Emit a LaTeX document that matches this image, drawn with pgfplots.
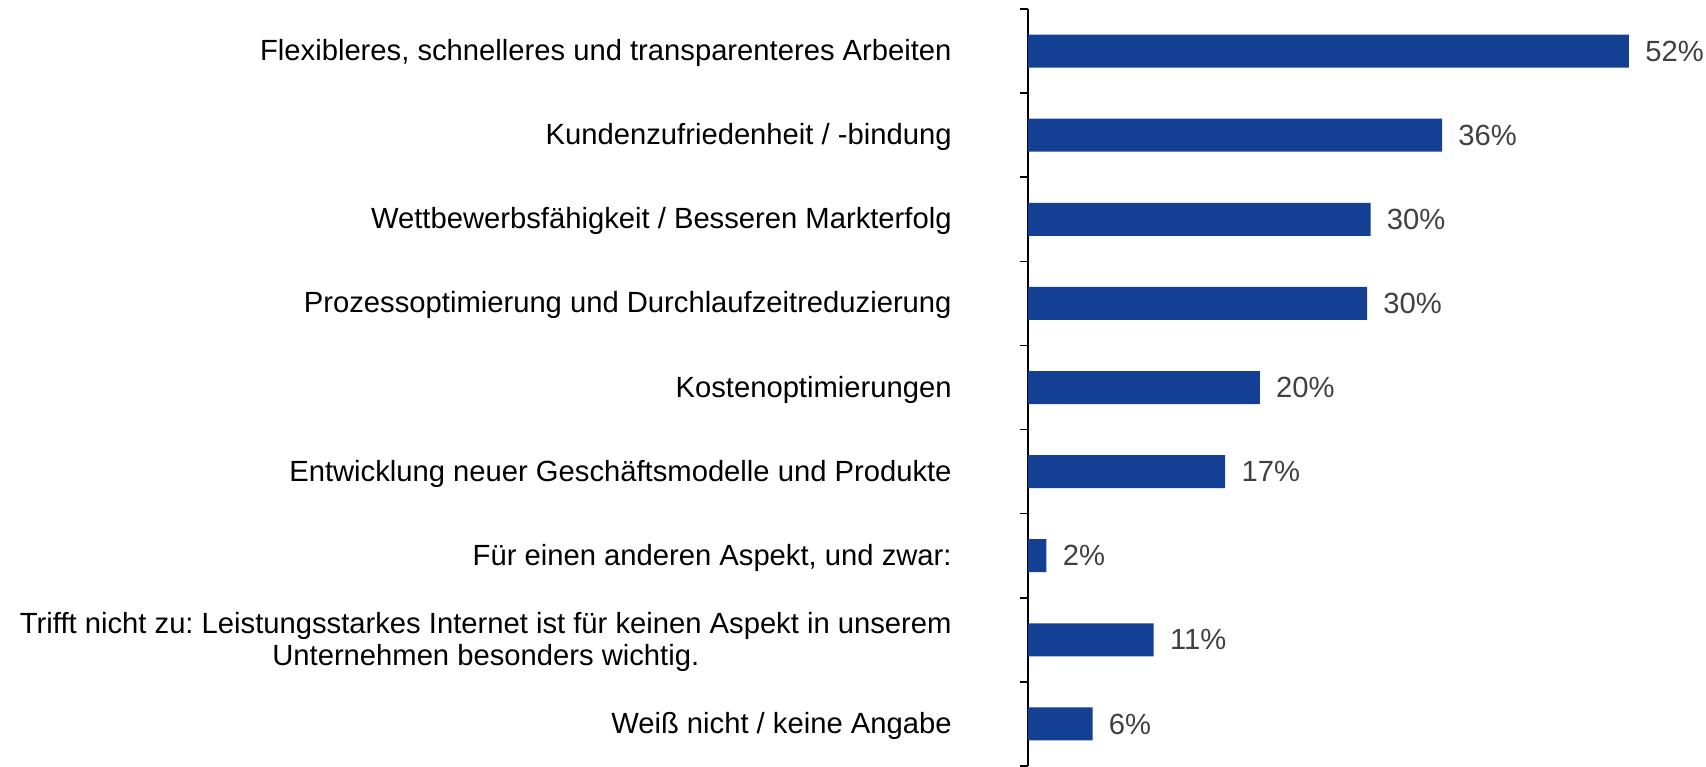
\documentclass[border=0pt]{standalone}
\usepackage{pgfplots}
\pgfplotsset{compat=1.18}
\usepackage{pgfplotstable}
\usepackage{fontspec}
\setmainfont{Liberation Sans}
\frenchspacing
\definecolor{barblue}{RGB}{20,64,148}
\definecolor{lblgray}{RGB}{64,64,64}
\pgfplotstableread{
y val lab
0 52.1 52
1 35.9 36
2 29.7 30
3 29.4 30
4 20.1 20
5 17.1 17
6 1.6 2
7 10.9 11
8 5.6 6
}\datatable
\begin{document}
\begin{tikzpicture}
\begin{axis}[
  at={(0,0)}, anchor=south west,
  scale only axis, width=338.5pt, height=378.5pt,
  xmin=0, xmax=58.7, ymin=-0.5, ymax=8.5, y dir=reverse,
  axis x line=none, axis y line*=left,
  y axis line style={-, black, line width=0.75pt},
  xbar, bar width=16.5pt,
  ytick={0,...,8},
  yticklabels={
    {Flexibleres, schnelleres und transparenteres Arbeiten},
    {Kundenzufriedenheit / -bindung},
    {Wettbewerbsfähigkeit / Besseren Markterfolg},
    {Prozessoptimierung und Durchlaufzeitreduzierung},
    {Kostenoptimierungen},
    {Entwicklung neuer Geschäftsmodelle und Produkte},
    {Für einen anderen Aspekt, und zwar:},
    {Trifft nicht zu: Leistungsstarkes Internet ist für keinen Aspekt in unserem\\Unternehmen besonders wichtig.},
    {Weiß nicht / keine Angabe}},
  major tick length=0pt,
  minor ytick={-0.5,0.5,...,8.5},
  minor tick length=4pt,
  tick align=outside,
  minor tick style={black, line width=0.75pt},
  yticklabel style={align=center, anchor=east, inner sep=0pt, text=black,
    font=\fontsize{14.6}{15.8}\selectfont, yshift=-1pt},
  yticklabel shift=38pt,
  nodes near coords={\pgfplotspointmeta\%},
  point meta=explicit symbolic,
  every node near coord/.append style={anchor=west, inner sep=0pt, xshift=8pt,
    text=lblgray, font=\fontsize{14.6}{15.8}\selectfont},
]
\addplot[fill=barblue, draw=none] table[x=val, y=y, meta=lab] {\datatable};
\end{axis}
\pgfresetboundingbox
\path[use as bounding box] (-514pt,0) rectangle (339pt,383pt);
\end{tikzpicture}
\end{document}
